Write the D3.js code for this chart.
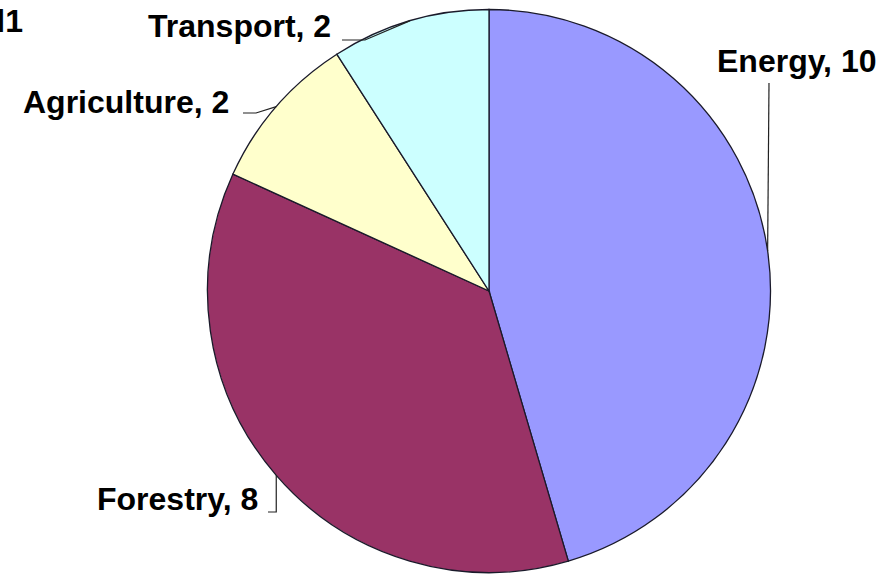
<!DOCTYPE html>
<html>
<head>
<meta charset="utf-8">
<script src="https://d3js.org/d3.v7.min.js"></script>
<style>
  html, body { margin: 0; padding: 0; background: #fff; overflow: hidden; }
  svg { display: block; }
</style>
</head>
<body>
<svg id="chart" width="894" height="574"></svg>
<script>
const categories = ["Energy", "Forestry", "Agriculture", "Transport"];
const values = [10, 8, 2, 2];
const colors = ["#9999ff", "#993366", "#ffffcc", "#ccffff"];

const W = 894, H = 574;
const cx = 489, cy = 291, R = 281.5;
const svg = d3.select("#chart");

const data = categories.map((c, i) => ({ name: c, value: values[i], color: colors[i] }));
const pie = d3.pie().value(d => d.value).sort(null).startAngle(0).endAngle(2 * Math.PI);
const arcs = pie(data);
const arc = d3.arc().innerRadius(0).outerRadius(R);

const g = svg.append("g").attr("transform", `translate(${cx},${cy})`);
g.selectAll("path").data(arcs).enter().append("path")
  .attr("d", arc)
  .attr("fill", d => d.data.color)
  .attr("stroke", "#1a1a2a")
  .attr("stroke-width", 1.3);

// label layout (positions of text, in page coords)
const labelLayout = {
  "Energy":      { x: 717, y: 72, line: (p) => [[769, 83], [p[0], p[1]]] },
  "Forestry":    { x: 97,  y: 510, line: (p) => [[268, 512], [p[0], 512], [p[0], p[1]]] },
  "Agriculture": { x: 23,  y: 113, line: (p) => [[243, 113], [256, 113], [p[0], p[1]]] },
  "Transport":   { x: 148, y: 37, line: (p) => [[342, 40], [365, 40], [p[0], p[1]]] }
};

arcs.forEach(a => {
  const mid = (a.startAngle + a.endAngle) / 2;
  const p = [cx + R * Math.sin(mid), cy - R * Math.cos(mid)];
  const L = labelLayout[a.data.name];
  svg.append("path")
    .attr("d", d3.line()(L.line(p)))
    .attr("fill", "none")
    .attr("stroke", "#222")
    .attr("stroke-width", 1.2);
  svg.append("text")
    .attr("x", L.x).attr("y", L.y)
    .attr("font-family", "'Liberation Sans', Arial, sans-serif")
    .attr("font-weight", "bold")
    .attr("font-size", 32)
    .attr("fill", "#000")
    .text(`${a.data.name}, ${a.data.value}`);
});

// cut-off title fragment at top-left (as in the reference)
svg.append("text")
  .attr("x", 23).attr("y", 32)
  .attr("text-anchor", "end")
  .attr("font-family", "'Liberation Sans', Arial, sans-serif")
  .attr("font-weight", "bold")
  .attr("font-size", 32)
  .text("l1");
</script>
</body>
</html>
